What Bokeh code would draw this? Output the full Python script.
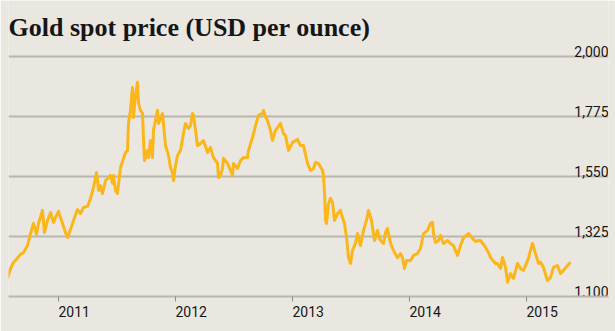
from bokeh.plotting import figure
from bokeh.models import Range1d, FixedTicker, ColumnDataSource, Label, Grid
from bokeh.embed import file_html
from bokeh.resources import INLINE
from bokeh.core.properties import value

# ---------------- data ----------------
title_text = "Gold spot price (USD per ounce)"

years = [
    2010.564, 2010.590, 2010.615, 2010.632, 2010.675, 2010.701, 2010.735, 2010.761, 2010.786, 2010.812,
    2010.829, 2010.863, 2010.880, 2010.906, 2010.932, 2010.957, 2010.974, 2011.000, 2011.034, 2011.060,
    2011.077, 2011.103, 2011.120, 2011.162, 2011.188, 2011.214, 2011.248, 2011.274, 2011.299, 2011.325,
    2011.342, 2011.359, 2011.376, 2011.402, 2011.427, 2011.444, 2011.462, 2011.470, 2011.487, 2011.504,
    2011.530, 2011.556, 2011.573, 2011.590, 2011.598, 2011.615, 2011.632, 2011.641, 2011.658, 2011.675,
    2011.684, 2011.701, 2011.718, 2011.726, 2011.735, 2011.761, 2011.769, 2011.786, 2011.803, 2011.812,
    2011.829, 2011.846, 2011.855, 2011.872, 2011.889, 2011.915, 2011.940, 2011.957, 2011.974, 2011.983,
    2012.000, 2012.017, 2012.043, 2012.068, 2012.085, 2012.111, 2012.128, 2012.145, 2012.154, 2012.171,
    2012.188, 2012.214, 2012.239, 2012.274, 2012.299, 2012.325, 2012.359, 2012.368, 2012.385, 2012.402,
    2012.410, 2012.444, 2012.470, 2012.487, 2012.496, 2012.530, 2012.556, 2012.581, 2012.615, 2012.624,
    2012.658, 2012.684, 2012.709, 2012.726, 2012.744, 2012.752, 2012.769, 2012.786, 2012.812, 2012.829,
    2012.855, 2012.880, 2012.897, 2012.923, 2012.940, 2012.966, 2013.000, 2013.043, 2013.068, 2013.094,
    2013.128, 2013.154, 2013.179, 2013.197, 2013.222, 2013.256, 2013.265, 2013.274, 2013.282, 2013.291,
    2013.308, 2013.325, 2013.342, 2013.359, 2013.385, 2013.410, 2013.427, 2013.444, 2013.462, 2013.479,
    2013.496, 2013.513, 2013.538, 2013.556, 2013.581, 2013.607, 2013.632, 2013.650, 2013.675, 2013.684,
    2013.701, 2013.726, 2013.752, 2013.778, 2013.795, 2013.812, 2013.838, 2013.863, 2013.897, 2013.923,
    2013.940, 2013.957, 2013.974, 2014.009, 2014.034, 2014.068, 2014.094, 2014.120, 2014.154, 2014.179,
    2014.197, 2014.205, 2014.222, 2014.248, 2014.265, 2014.291, 2014.325, 2014.350, 2014.376, 2014.410,
    2014.436, 2014.462, 2014.504, 2014.538, 2014.564, 2014.590, 2014.607, 2014.650, 2014.675, 2014.692,
    2014.735, 2014.752, 2014.778, 2014.795, 2014.821, 2014.838, 2014.863, 2014.889, 2014.923, 2014.949,
    2014.974, 2015.017, 2015.034, 2015.051, 2015.077, 2015.103, 2015.120, 2015.145, 2015.179, 2015.205,
    2015.231, 2015.265, 2015.291, 2015.316, 2015.350, 2015.376,
]

prices = [
    1168, 1205, 1228, 1235, 1258, 1265, 1291, 1336, 1374, 1333,
    1374, 1423, 1340, 1385, 1415, 1378, 1396, 1419, 1374, 1340,
    1321, 1351, 1374, 1426, 1411, 1434, 1438, 1468, 1509, 1565,
    1498, 1516, 1486, 1535, 1546, 1554, 1524, 1554, 1498, 1486,
    1584, 1618, 1640, 1648, 1749, 1798, 1884, 1771, 1854, 1903,
    1824, 1798, 1786, 1696, 1610, 1648, 1621, 1685, 1621, 1723,
    1760, 1798, 1749, 1768, 1786, 1666, 1629, 1584, 1565, 1535,
    1591, 1629, 1648, 1711, 1749, 1730, 1741, 1786, 1779, 1723,
    1666, 1674, 1685, 1640, 1659, 1621, 1599, 1546, 1554, 1580,
    1618, 1599, 1573, 1554, 1599, 1580, 1610, 1621, 1621, 1648,
    1696, 1741, 1779, 1783, 1786, 1798, 1775, 1760, 1723, 1685,
    1723, 1738, 1749, 1711, 1704, 1648, 1678, 1689, 1666, 1666,
    1599, 1573, 1580, 1603, 1599, 1573, 1554, 1486, 1385, 1374,
    1449, 1468, 1453, 1385, 1411, 1423, 1396, 1374, 1321, 1246,
    1224, 1273, 1299, 1336, 1291, 1348, 1385, 1423, 1385, 1359,
    1310, 1348, 1310, 1299, 1340, 1355, 1299, 1273, 1246, 1261,
    1246, 1205, 1235, 1235, 1254, 1261, 1280, 1336, 1348, 1374,
    1378, 1336, 1303, 1310, 1329, 1299, 1310, 1299, 1291, 1254,
    1291, 1321, 1336, 1318, 1306, 1310, 1310, 1284, 1265, 1246,
    1224, 1224, 1205, 1246, 1209, 1153, 1186, 1168, 1224, 1205,
    1198, 1243, 1273, 1299, 1261, 1224, 1228, 1209, 1160, 1171,
    1209, 1216, 1186, 1198, 1216, 1228,
]

y_ticks = [1100, 1325, 1550, 1775, 2000]
y_tick_labels = ["1,100", "1,325", "1,550", "1,775", "2,000"]
x_ticks = [2011, 2012, 2013, 2014, 2015]
x_tick_labels = ["2011", "2012", "2013", "2014", "2015"]

# ---------------- layout / style ----------------
W, H = 615, 331
BG = "#e9e7e0"
GRID = "#b7b6b1"
GOLD = "#fbb61a"
INK = "#161616"

left_px, right_px, bottom_px = 8, 608, 296
px_per_year = 117.0
px_2011 = 58
units_per_px = (y_ticks[-1] - y_ticks[0]) / 240.0   # 2000 gridline sits 240px above 1100

x_start = x_ticks[0] - (px_2011 - left_px) / px_per_year
x_end = x_ticks[0] + (right_px - px_2011) / px_per_year
y_start = y_ticks[0]
y_end = y_ticks[0] + bottom_px * units_per_px

p = figure(
    width=W, height=H,
    output_backend="svg", toolbar_location=None, title=None,
    x_range=Range1d(x_start, x_end), y_range=Range1d(y_start, y_end),
    y_axis_location=None,
    min_border_left=left_px, min_border_right=W - right_px,
    min_border_top=0, min_border_bottom=H - bottom_px,
    background_fill_color=BG, border_fill_color=BG,
    outline_line_color=None,
)

# remove default grids, add our own horizontal grid
p.center = [r for r in p.center if not isinstance(r, Grid)]
p.add_layout(Grid(dimension=1, ticker=FixedTicker(ticks=y_ticks),
                  grid_line_color=GRID, grid_line_width=2))

# x axis (labels start at the tick, as in the reference)
ax = p.xaxis[0]
ax.ticker = FixedTicker(ticks=x_ticks)
ax.major_label_overrides = dict(zip(x_ticks, x_tick_labels))
ax.axis_line_color = GRID
ax.axis_line_width = 2
ax.major_tick_line_color = "#8c8c88"
ax.major_tick_line_width = 1
ax.major_tick_in = 0
ax.major_tick_out = 5
ax.minor_tick_in = 0
ax.minor_tick_out = 0
ax.major_label_orientation = -0.0001
ax.major_label_standoff = 10
ax.major_label_text_font = "Roboto"
ax.major_label_text_font_size = "14px"
ax.major_label_text_color = INK

# gold price line
src = ColumnDataSource(dict(x=years, y=prices))
p.line("x", "y", source=src, line_color=GOLD, line_width=3, line_join="round")

# y tick labels above gridlines, right aligned
lab_src = ColumnDataSource(dict(x=[x_end] * len(y_ticks), y=y_ticks, t=y_tick_labels))
p.text("x", "y", text="t", source=lab_src, text_align="right", text_baseline="bottom",
       text_font=value("Roboto"), text_font_size="14px", text_color=INK)

# title
p.add_layout(Label(x=x_start, y=y_end - 12 * units_per_px, x_units="data", y_units="data",
                   text=title_text, text_font="Liberation Serif", text_font_style="bold",
                   text_font_size="26px", text_color=INK, text_baseline="top",
                   text_align="left"))

open("out.html", "w").write(file_html(p, INLINE))
